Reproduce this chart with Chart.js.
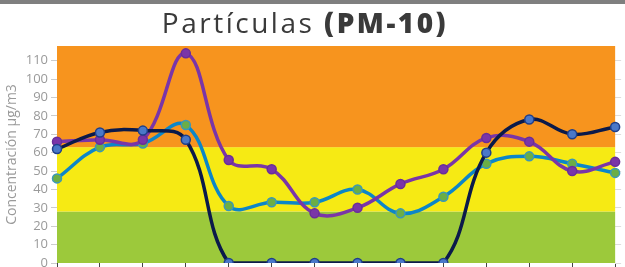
<!DOCTYPE html>
<html>
<head>
<meta charset="utf-8">
<script src="https://cdn.jsdelivr.net/npm/chart.js@4"></script>
<style>
  html, body { margin: 0; padding: 0; background: #fff; overflow: hidden; }
  #topbar { position: absolute; left: 0; top: 0; width: 625px; height: 4px; background: #7f7f7f; }
  #title { position: absolute; left: 0; top: 7px; width: 610px; text-align: center;
           font-family: "Open Sans", sans-serif; font-size: 28px; color: #3a3a3a; line-height: 30px;
           letter-spacing: 2.5px; white-space: nowrap; }
  #title b { font-weight: 800; }
  #wrap { position: absolute; left: 0; top: 0; width: 625px; height: 300px; }
</style>
</head>
<body>
<div id="wrap"><canvas id="chart" width="625" height="300"></canvas></div>
<div id="topbar"></div>
<div id="title">Partículas <b>(PM-10)</b></div>
<script>
const categories = ["1","2","3","4","5","6","7","8","9","10","11","12","13","14"];
const estacionA = [62, 71, 72, 67, 0, 0, 0, 0, 0, 0, 60, 78, 70, 74];
const estacionB = [66, 67, 67, 114, 56, 51, 27, 30, 43, 51, 68, 66, 50, 55];
const estacionC = [46, 63, 65, 75, 31, 33, 33, 40, 27, 36, 54, 58, 54, 49];
const yTicksMax = 118;
const bandas = [
  { desde: 0, hasta: 28, color: "#9cc93b" },
  { desde: 28, hasta: 63, color: "#f6ea14" },
  { desde: 63, hasta: yTicksMax, color: "#f7941e" }
];

const bandPlugin = {
  id: "bandas",
  beforeDatasetsDraw(chart) {
    const { ctx, chartArea, scales } = chart;
    ctx.save();
    bandas.forEach(b => {
      const y1 = scales.y.getPixelForValue(b.hasta);
      const y0 = scales.y.getPixelForValue(b.desde);
      ctx.fillStyle = b.color;
      ctx.fillRect(chartArea.left, y1, chartArea.right - chartArea.left, y0 - y1);
    });
    ctx.restore();
  }
};

new Chart(document.getElementById("chart").getContext("2d"), {
  type: "line",
  data: {
    labels: categories,
    datasets: [
      {
        label: "A", data: estacionA,
        borderColor: "#0b1a4a", backgroundColor: "#4a78c8",
        pointBackgroundColor: "#4a78c8", pointBorderColor: "#1f3f8a",
        borderWidth: 3.5, pointRadius: 4.5, pointBorderWidth: 1.5, tension: 0.4
      },
      {
        label: "B", data: estacionB,
        borderColor: "#7a35a8", backgroundColor: "#7a35a8",
        pointBackgroundColor: "#7a35a8", pointBorderColor: "#6a2d9a",
        borderWidth: 3.5, pointRadius: 4.5, pointBorderWidth: 1.5, tension: 0.4
      },
      {
        label: "C", data: estacionC,
        borderColor: "#0c86c8", backgroundColor: "#6bae45",
        pointBackgroundColor: "#6bae45", pointBorderColor: "#3a98b8",
        borderWidth: 3.5, pointRadius: 4.5, pointBorderWidth: 1.5, tension: 0.4
      }
    ]
  },
  options: {
    responsive: false,
    animation: false,
    layout: { padding: { top: 46, right: 0, left: 0, bottom: 0 } },
    plugins: { legend: { display: false }, title: { display: false }, tooltip: { enabled: false } },
    scales: {
      x: {
        offset: false,
        grid: { drawOnChartArea: false, tickLength: 6, color: "#444444" },
        border: { display: false },
        ticks: { color: "#999", font: { family: "Open Sans", size: 12 }, maxRotation: 0, autoSkip: false },
        afterFit(scale) { scale.height = 37; }
      },
      y: {
        min: 0, max: yTicksMax,
        grid: { drawOnChartArea: false, tickLength: 6, color: "#cccccc" },
        border: { display: false },
        ticks: { stepSize: 10, includeBounds: false, padding: 3, color: "#9a9a9a",
                 font: { family: "Open Sans", size: 13 } },
        title: { display: true, text: "Concentración µg/m3", color: "#9a9a9a",
                 font: { family: "Open Sans", size: 14 }, padding: { top: 4, bottom: 0 } },
        afterFit(scale) { scale.width = 57; }
      },
      y2: {
        position: "right", min: 0, max: yTicksMax,
        grid: { drawOnChartArea: false, tickLength: 6, color: "#dddddd" },
        border: { display: false },
        ticks: { display: false, stepSize: 10, includeBounds: false },
        afterFit(scale) { scale.width = 8; }
      }
    }
  },
  plugins: [bandPlugin]
});
</script>
</body>
</html>
